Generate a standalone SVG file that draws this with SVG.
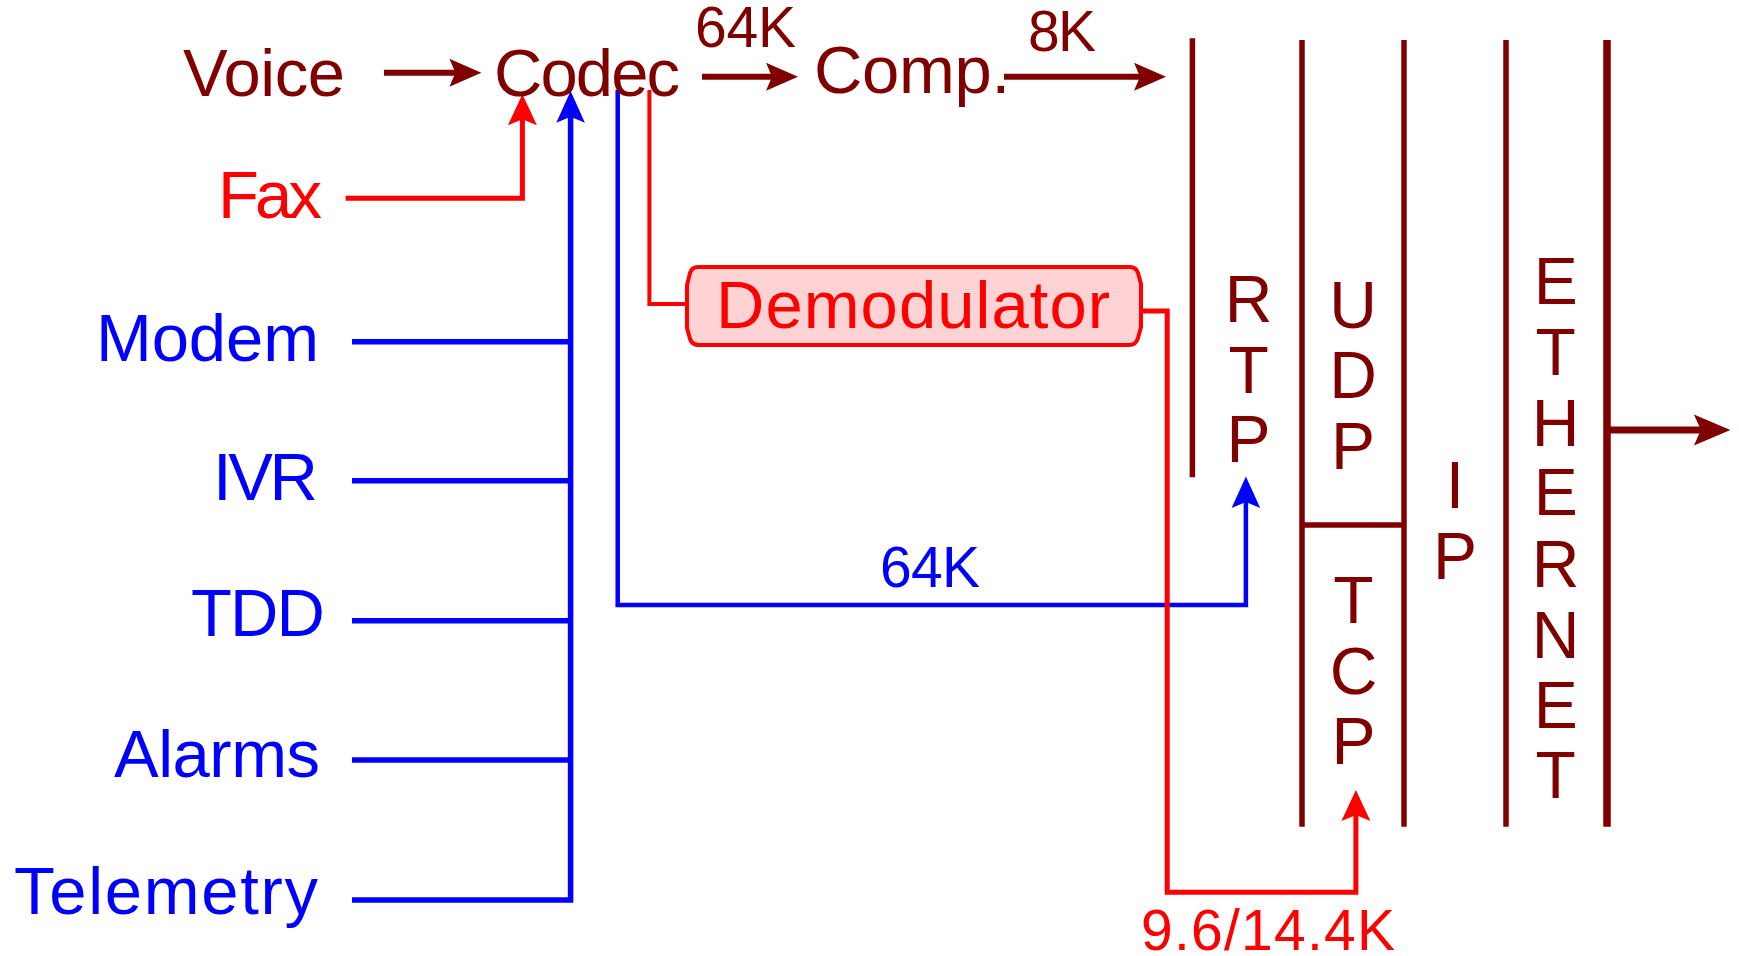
<svg xmlns="http://www.w3.org/2000/svg" width="1739" height="956" viewBox="0 0 1739 956">
<style>
text{font-family:"Liberation Sans",Arial,sans-serif}
.big{font-size:67px}
.small{font-size:57px}
.stk{font-size:66px;text-anchor:middle;fill:#800000}
.dr{fill:#800000}
.rd{fill:#ff0000}
.bl{fill:#0000ff}
.wdr{fill:none;stroke:#800000;stroke-width:6}
.wrd{fill:none;stroke:#ff0000;stroke-width:5}
.wrdt{fill:none;stroke:#ff0000;stroke-width:4}
.wbl{fill:none;stroke:#0000ff;stroke-width:5.5}
.wblt{fill:none;stroke:#0000ff;stroke-width:4.5}
.bar{stroke:#800000;stroke-width:5.5}
</style>
<defs>
<marker id="ahDr" viewBox="-1 -16 36 32" markerWidth="36" markerHeight="32" refX="8" refY="0" orient="auto" markerUnits="userSpaceOnUse"><path d="M0,-14 L32,0 L0,14 L6,0 Z" fill="#800000"/></marker>
<marker id="ahRd" viewBox="-1 -16 36 32" markerWidth="36" markerHeight="32" refX="8" refY="0" orient="auto" markerUnits="userSpaceOnUse"><path d="M0,-14.5 L31,0 L0,14.5 L6,0 Z" fill="#ff0000"/></marker>
<marker id="ahBl" viewBox="-1 -16 36 32" markerWidth="36" markerHeight="32" refX="8" refY="0" orient="auto" markerUnits="userSpaceOnUse"><path d="M0,-14.3 L31.6,0 L0,14.3 L6,0 Z" fill="#0000ff"/></marker>
<marker id="ahBig" viewBox="-1 -18 40 36" markerWidth="40" markerHeight="36" refX="9" refY="0" orient="auto" markerUnits="userSpaceOnUse"><path d="M0,-15.5 L36.5,0 L0,15.5 L7,0 Z" fill="#800000"/></marker>
</defs>

<g id="connectors">
  <path class="wdr" d="M384,72.7 H457.4" marker-end="url(#ahDr)"/>
  <path class="wdr" d="M702,76.7 H774" marker-end="url(#ahDr)"/>
  <path class="wdr" d="M1004,76.7 H1142" marker-end="url(#ahDr)"/>
  <path class="wrd" d="M345.6,198.3 H522.4 V117.3" marker-end="url(#ahRd)"/>
  <path class="wbl" d="M352,900 H570.6 V114.7" marker-end="url(#ahBl)"/>
  <path class="wbl" d="M352,341.7 H570.6 M352,480.7 H570.6 M352,620.7 H570.6 M352,760 H570.6"/>
  <path class="wblt" d="M617.7,90 V605 H1245.9 V500" marker-end="url(#ahBl)"/>
  <path class="wrdt" d="M649.4,90 V304 H688"/>
  <path class="wrd" d="M1140,311 H1167.2 V892.3 H1355.9 V813" marker-end="url(#ahRd)"/>
  <path fill="none" stroke="#800000" stroke-width="7" d="M1607,430 H1702.9" marker-end="url(#ahBig)"/>
</g>

<g id="voice"><text class="big dr" x="183" y="96" textLength="162">Voice</text></g>
<g id="codec"><text class="big dr" x="494" y="96" textLength="186">Codec</text></g>
<g id="comp"><text class="big dr" x="814" y="93.3" textLength="196">Comp.</text></g>
<g id="fax"><text class="big rd" x="218" y="218.3" textLength="104">Fax</text></g>
<g id="modem"><text class="big bl" x="96" y="361" textLength="223">Modem</text></g>
<g id="ivr"><text class="big bl" x="213" y="500" textLength="105">IVR</text></g>
<g id="tdd"><text class="big bl" x="191" y="636" textLength="134">TDD</text></g>
<g id="alarms"><text class="big bl" x="114" y="777.3" textLength="206">Alarms</text></g>
<g id="telemetry"><text class="big bl" x="14" y="914" textLength="304">Telemetry</text></g>

<g id="demodulator">
  <path d="M698,267 H1130 Q1136,267 1138,273 L1141,284 V327 L1138,338 Q1136,345 1129,345 H699 Q692,345 690,339 L687,328 V285 L690,273 Q692,267 698,267 Z" fill="#ffd3d3" stroke="#ff0000" stroke-width="4"/>
  <text class="big rd" x="716" y="328.3" textLength="394">Demodulator</text>
</g>

<g id="labels">
  <text class="small dr" x="695" y="46.7" textLength="101">64K</text>
  <text class="small dr" x="1028" y="50.7" textLength="68">8K</text>
  <text class="small bl" x="880" y="587.3" textLength="100">64K</text>
  <text class="small rd" x="1141" y="950" textLength="254">9.6/14.4K</text>
</g>

<g id="stack">
  <line class="bar" x1="1192.4" y1="38.3" x2="1192.4" y2="477.3"/>
  <line class="bar" x1="1302" y1="40" x2="1302" y2="826.7"/>
  <line class="bar" x1="1404" y1="40" x2="1404" y2="826.7"/>
  <line class="bar" x1="1506" y1="40" x2="1506" y2="826.7"/>
  <line stroke="#800000" stroke-width="7.5" x1="1607" y1="40" x2="1607" y2="826.7"/>
  <line class="bar" x1="1302" y1="525" x2="1404" y2="525"/>
</g>
<g id="rtp">
  <text class="stk" x="1248.6" y="321.7">R</text>
  <text class="stk" x="1248.6" y="392.7">T</text>
  <text class="stk" x="1248.6" y="461.7">P</text>
</g>
<g id="udp">
  <text class="stk" x="1353" y="328">U</text>
  <text class="stk" x="1353" y="397.7">D</text>
  <text class="stk" x="1353" y="469">P</text>
</g>
<g id="tcp">
  <text class="stk" x="1353.5" y="623.3">T</text>
  <text class="stk" x="1353.5" y="694">C</text>
  <text class="stk" x="1353.5" y="764">P</text>
</g>
<g id="ip">
  <text class="stk" x="1455" y="507.7">I</text>
  <text class="stk" x="1455" y="579.3">P</text>
</g>
<g id="ethernet">
  <text class="stk" x="1555.7" y="304">E</text>
  <text class="stk" x="1555.7" y="375">T</text>
  <text class="stk" x="1555.7" y="445.7">H</text>
  <text class="stk" x="1555.7" y="515">E</text>
  <text class="stk" x="1555.7" y="586.7">R</text>
  <text class="stk" x="1555.7" y="657.7">N</text>
  <text class="stk" x="1555.7" y="728.3">E</text>
  <text class="stk" x="1555.7" y="798.3">T</text>
</g>
</svg>
